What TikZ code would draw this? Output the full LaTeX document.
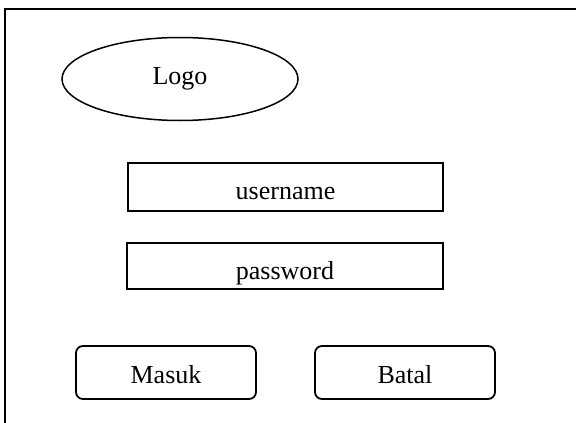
\documentclass[tikz,border=0pt]{standalone}
\usepackage{fontspec}
\setmainfont{Liberation Serif}
\usetikzlibrary{shapes.geometric}
\begin{document}
\begin{tikzpicture}[x=1pt,y=-1pt,
  every node/.style={font=\fontsize{26}{30}\selectfont, inner sep=0pt},
  field/.style={draw, line width=1.5pt, rectangle},
  btn/.style={draw, line width=1.8pt, rounded corners=7pt, minimum width=180pt, minimum height=53pt},
  lbl/.style={anchor=base}]
\useasboundingbox (0,0) rectangle (576,423);
\coordinate (tr) at (577,9);
\coordinate (tl) at (5,9);
\coordinate (bl) at (5,424);
\draw[line width=2pt] (tr) -- (tl) -- (bl);
\node[draw, ellipse, line width=1.5pt, minimum width=236pt, minimum height=83pt] (logo) at (180,79) {};
\node[lbl] (logot) at (180,84) {Logo};
\node[field, minimum width=315pt, minimum height=48pt] (user) at (285.5,187) {};
\node[lbl] (usert) at (285.5,199) {username};
\node[field, minimum width=316pt, minimum height=46pt] (pass) at (285,266) {};
\node[lbl] (passt) at (285,279) {password};
\node[btn] (masuk) at (166,372.5) {};
\node[lbl] (masukt) at (166,383) {Masuk};
\node[btn] (batal) at (405,372.5) {};
\node[lbl] (batalt) at (405,383) {Batal};
\end{tikzpicture}
\end{document}
